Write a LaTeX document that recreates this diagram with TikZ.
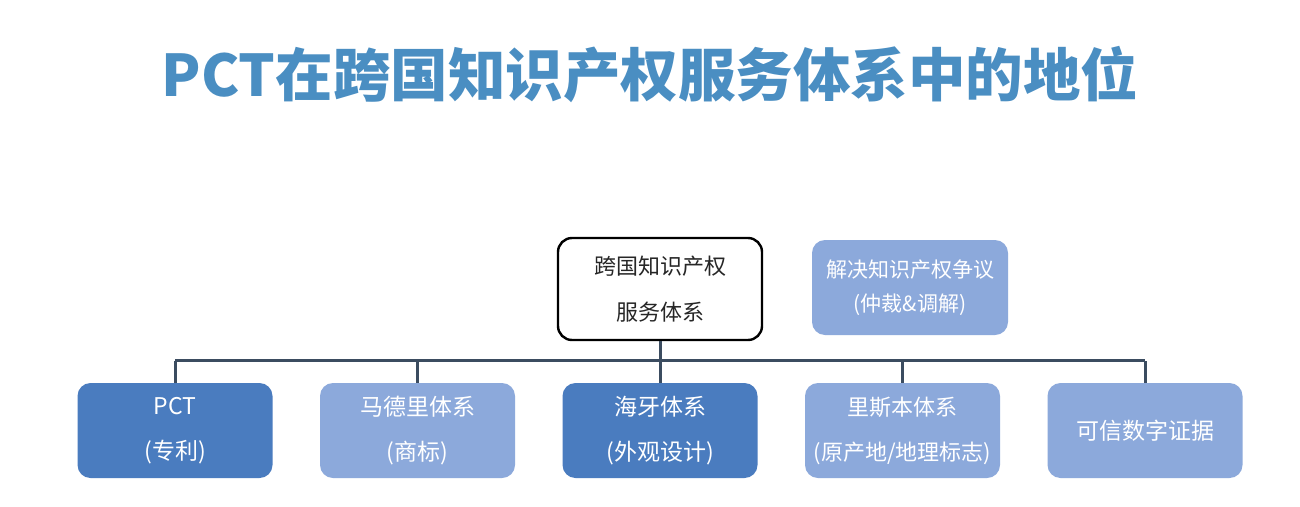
\documentclass[tikz,border=0pt]{standalone}
\usepackage{fontspec}
\newfontfamily\cjk{Noto Sans CJK SC}
\definecolor{titleblue}{HTML}{4A8EC2}
\definecolor{darkbox}{HTML}{4A7CBF}
\definecolor{lightbox}{HTML}{8CA9DB}
\definecolor{linecol}{HTML}{3B4C60}
\tikzset{
  boxbase/.style={rectangle, rounded corners=13pt, minimum width=195pt, minimum height=95pt, align=center, text=white, inner sep=0pt},
  darkfill/.style={boxbase, fill=darkbox},
  lightfill/.style={boxbase, fill=lightbox},
  conn/.style={draw=linecol, line width=3pt},
  boxtext/.style={font=\cjk\fontsize{23}{45}\selectfont}
}
\begin{document}
\begin{tikzpicture}[x=1pt,y=-1pt]
\useasboundingbox (0,0) rectangle (1300,506);
\fill[white] (0,0) rectangle (1300,506);
\node (title) at (650,75) [font=\cjk\bfseries\fontsize{57.5}{64}\selectfont, text=titleblue] {PCT在跨国知识产权服务体系中的地位};
\node (top) at (660,289) [rectangle, rounded corners=14pt, minimum width=204pt, minimum height=102pt, draw=black, line width=2.4pt, fill=white, align=center, font=\cjk\fontsize{22}{46}\selectfont, text=black!85] {跨国知识产权\\服务体系};
\node (dispute) at (910,287.5) [lightfill, minimum width=196pt, font=\cjk\fontsize{21}{34}\selectfont] {解决知识产权争议\\(仲裁\&调解)};
\node (pct) at (175,430.5) [darkfill, boxtext] {PCT\\(专利)};
\node (madrid) at (417.5,430.5) [lightfill, boxtext] {马德里体系\\(商标)};
\node (hague) at (660,430.5) [darkfill, boxtext] {海牙体系\\(外观设计)};
\node (lisbon) at (902.5,430.5) [lightfill, boxtext, font=\cjk\fontsize{22}{45}\selectfont] {里斯本体系\\(原产地/地理标志)};
\node (trust) at (1145,430.5) [lightfill, boxtext] {可信数字证据};
\coordinate (busL) at (175,360.5);
\coordinate (busR) at (1145,360.5);
\draw[conn] (busL) -- (busR);
\draw[conn] (top.south) -- (top.south |- busL);
\foreach \b in {pct,madrid,hague,lisbon,trust}{
  \draw[conn] (\b.north) -- (\b.north |- busL);
}
\end{tikzpicture}
\end{document}
